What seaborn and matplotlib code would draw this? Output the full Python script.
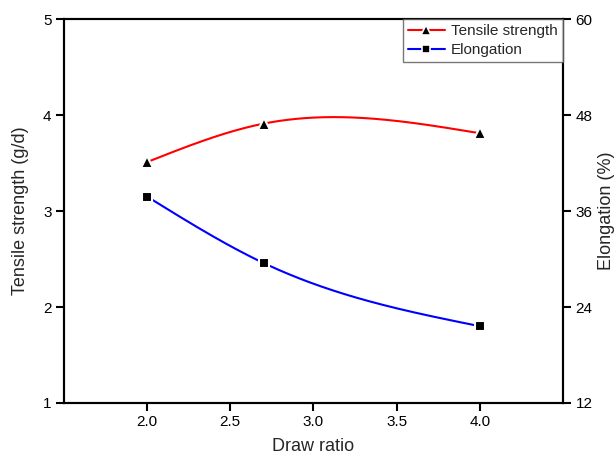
import numpy as np
import pandas as pd
import seaborn as sns
import matplotlib.pyplot as plt
from matplotlib.lines import Line2D

# === DATA ===
draw_ratio = [2.0, 2.7, 4.0]
tensile_strength = [3.51, 3.91, 3.81]   # g/d
elongation = [37.8, 29.5, 21.6]         # %

sns.set_style("ticks")
plt.rcParams['font.family'] = ['Liberation Sans', 'DejaVu Sans']
plt.rcParams['axes.linewidth'] = 1.5


def smooth_curve(x, y, n=200):
    # natural cubic spline through the points (Origin-style spline connector)
    x = np.asarray(x, float)
    y = np.asarray(y, float)
    k = len(x)
    h = np.diff(x)
    A = np.zeros((k, k))
    r = np.zeros(k)
    A[0, 0] = A[-1, -1] = 1.0
    for i in range(1, k - 1):
        A[i, i - 1] = h[i - 1]
        A[i, i] = 2 * (h[i - 1] + h[i])
        A[i, i + 1] = h[i]
        r[i] = 6 * ((y[i + 1] - y[i]) / h[i] - (y[i] - y[i - 1]) / h[i - 1])
    M = np.linalg.solve(A, r)
    xs = np.linspace(x[0], x[-1], n)
    idx = np.clip(np.searchsorted(x, xs) - 1, 0, k - 2)
    x0, x1, hi = x[idx], x[idx + 1], h[idx]
    ys = (M[idx] * (x1 - xs) ** 3 / (6 * hi) + M[idx + 1] * (xs - x0) ** 3 / (6 * hi)
          + (y[idx] / hi - M[idx] * hi / 6) * (x1 - xs)
          + (y[idx + 1] / hi - M[idx + 1] * hi / 6) * (xs - x0))
    return pd.DataFrame({"x": xs, "y": ys})


fig, ax = plt.subplots(figsize=(6.15, 4.66), dpi=100)
fig.subplots_adjust(left=0.104, right=0.9154, bottom=0.1352, top=0.9592)
ax2 = ax.twinx()

ts_curve = smooth_curve(draw_ratio, tensile_strength)
el_curve = smooth_curve(draw_ratio, elongation)

sns.lineplot(data=ts_curve, x="x", y="y", ax=ax, color="red", linewidth=1.5)
sns.lineplot(data=el_curve, x="x", y="y", ax=ax2, color="blue", linewidth=1.5)

ax.plot(draw_ratio, tensile_strength, linestyle="none", marker="^", markersize=8,
        markerfacecolor="black", markeredgecolor="white", markeredgewidth=1.5, zorder=5)
ax2.plot(draw_ratio, elongation, linestyle="none", marker="s", markersize=7,
         markerfacecolor="black", markeredgecolor="white", markeredgewidth=1.5, zorder=5)

ax.set_xlim(1.5, 4.5)
ax.set_ylim(1, 5)
ax2.set_ylim(12, 60)
ax.set_xticks([2.0, 2.5, 3.0, 3.5, 4.0])
ax.set_xticklabels(["2.0", "2.5", "3.0", "3.5", "4.0"])
ax.set_yticks([1, 2, 3, 4, 5])
ax2.set_yticks([12, 24, 36, 48, 60])

for a in (ax, ax2):
    a.tick_params(direction="out", length=6, width=1.5, labelsize=11, pad=3, colors="black")
    for s in a.spines.values():
        s.set_visible(True)
        s.set_linewidth(1.5)
        s.set_color("black")

ax.set_xlabel("Draw ratio", fontsize=13, labelpad=6)
ax.set_ylabel("Tensile strength (g/d)", fontsize=13, labelpad=10)
ax2.set_ylabel("Elongation (%)", fontsize=13, labelpad=4)

handles = [
    Line2D([0], [0], color="red", linewidth=1.5, marker="^", markersize=7,
           markerfacecolor="black", markeredgecolor="white", markeredgewidth=1.2),
    Line2D([0], [0], color="blue", linewidth=1.5, marker="s", markersize=6,
           markerfacecolor="black", markeredgecolor="white", markeredgewidth=1.2),
]
leg = ax2.legend(handles, ["Tensile strength", "Elongation"], loc="upper right",
                 bbox_to_anchor=(1.0, 1.0), borderaxespad=0, fontsize=11,
                 frameon=True, fancybox=False, handlelength=2.4, handletextpad=0.4,
                 borderpad=0.35, labelspacing=0.3)
leg.get_frame().set_edgecolor("#555555")
leg.get_frame().set_linewidth(1.0)

fig.savefig("out.png", dpi=100)
